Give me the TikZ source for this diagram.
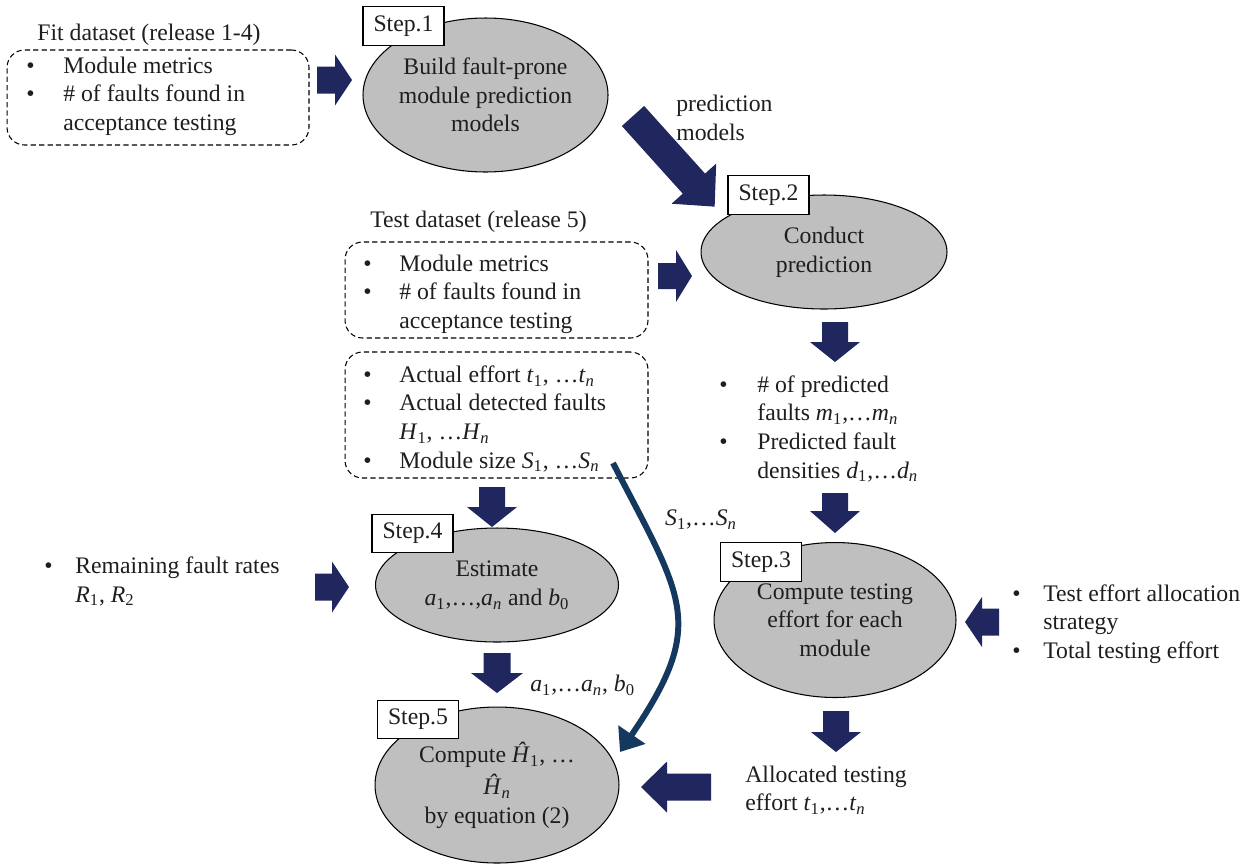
\documentclass[tikz,border=0pt]{standalone}
\usepackage{fontspec}
\setmainfont{Liberation Serif}
\usepackage{array}
\usetikzlibrary{shapes.geometric,arrows.meta}
\definecolor{navy}{RGB}{32,39,94}
\definecolor{curvec}{RGB}{20,56,94}
\definecolor{txt}{RGB}{30,30,30}
\definecolor{ellfill}{RGB}{191,191,191}
\newcommand\vsub[2]{\textit{#1}\textsubscript{#2}}
\newcommand\vsn[1]{\textit{#1}\textsubscript{\textit{n}}}
\newcommand\blist[2]{\begin{tabular}{@{}p{#1}@{}l@{}}#2\end{tabular}}
% tail x, tail y, angle, length, head length, head width, shaft width
\newcommand\fatarr[7]{\fill[navy, shift={(#1,#2)}, rotate=#3] (0,{-#7/2}) -- ({#4-#5},{-#7/2}) -- ({#4-#5},{-#6/2}) -- (#4,0) -- ({#4-#5},{#6/2}) -- ({#4-#5},{#7/2}) -- (0,{#7/2}) -- cycle;}
\begin{document}
\begin{tikzpicture}[x=0.02cm,y=-0.02cm,
  every node/.style={font=\fontsize{13.5}{16.3}\selectfont, text=txt, inner sep=0pt},
  ell/.style={ellipse, draw=black, line width=0.6pt, fill=ellfill, align=center},
  stepbox/.style={draw=black, line width=0.6pt, fill=white, minimum width=1.62cm, minimum height=0.77cm},
  dbox/.style={draw=black, dash pattern=on 3pt off 1.8pt, line width=0.6pt, rounded corners=0.35cm},
  curvearrow/.style={draw=curvec, line width=3.4pt, -{Triangle[width=18pt,length=12pt]}}
]
\useasboundingbox (0,0) rectangle (1253,866);

% ---- Fit dataset
\node[dbox, minimum width=6.04cm, minimum height=1.9cm] (fitbox) at (158,97.5) {};
\node[anchor=west] (fittitle) at (37,35) {Fit dataset (release 1-4)};
\node[anchor=west] (fitlist) at (26,96) {\blist{0.74cm}{\textbullet & Module metrics\\ \textbullet & \# of faults found in\\ & acceptance testing}};

% ---- Step 1
\node[ell, minimum width=4.9cm, minimum height=3.08cm] (e1) at (485.5,95) {Build fault-prone\\module prediction\\models};
\node[stepbox] (s1) at (403.5,26) {Step.1};
\node[anchor=west, align=left] (pm) at (676,118) {prediction\\models};

% ---- Step 2
\node[ell, minimum width=4.92cm, minimum height=2.28cm] (e2) at (824,252) {Conduct\\prediction};
\node[stepbox] (s2) at (768.5,195) {Step.2};

% ---- Test dataset
\node[anchor=west] (testtitle) at (370,222) {Test dataset (release 5)};
\node[dbox, minimum width=6.06cm, minimum height=1.92cm] (testbox) at (496.5,290) {};
\node[anchor=west] (testlist) at (363,294) {\blist{0.72cm}{\textbullet & Module metrics\\ \textbullet & \# of faults found in\\ & acceptance testing}};
\node[dbox, minimum width=6.06cm, minimum height=2.52cm] (actbox) at (496.5,415) {};
\node[anchor=west] (actlist) at (363,419.5) {\blist{0.72cm}{\textbullet & Actual effort \vsub{t}{1}, …\vsn{t}\\ \textbullet & Actual detected faults\\ & \vsub{H}{1}, …\vsn{H}\\ \textbullet & Module size \vsub{S}{1}, …\vsn{S}}};

% ---- predicted list
\node[anchor=west] (pred) at (719,429.5) {\blist{0.76cm}{\textbullet & \# of predicted\\ & faults \vsub{m}{1},…\vsn{m}\\ \textbullet & Predicted fault\\ & densities \vsub{d}{1},…\vsn{d}}};

% ---- Step 3
\node[ell, minimum width=4.84cm, minimum height=3.1cm] (e3) at (835,620) {Compute testing\\effort for each\\module};
\node[stepbox] (s3) at (761,562) {Step.3};
\node[anchor=west] (strat) at (1012,624) {\blist{0.62cm}{\textbullet & Test effort allocation\\ & strategy\\ \textbullet & Total testing effort}};
\node[anchor=west, align=left] (allocd) at (745,790) {Allocated testing\\effort \vsub{t}{1},…\vsn{t}};

% ---- Step 4
\node[ell, minimum width=4.86cm, minimum height=2.28cm] (e4) at (497,585) {Estimate\\\vsub{a}{1},…,\vsn{a} and \vsub{b}{0}};
\node[stepbox] (s4) at (412.5,533.5) {Step.4};
\node[anchor=west] (rlist) at (44,582) {\blist{0.62cm}{\textbullet & Remaining fault rates\\ & \vsub{R}{1}, \vsub{R}{2}}};
\node[anchor=west] (alab) at (530,685) {\vsub{a}{1},…\vsn{a}, \vsub{b}{0}};

% ---- Step 5
\node[ell, minimum width=4.88cm, minimum height=3.12cm] (e5) at (497,785) {Compute \vsub{Ĥ}{1}, …\\[2pt]\vsn{Ĥ}\\[0pt]by equation (2)};
\node[stepbox] (s5) at (418,719.5) {Step.5};

% ---- S label and curved arrow
\node (slab) at (701,520) {\vsub{S}{1},…\vsn{S}};
\coordinate (sstart) at (613,463);
\coordinate (send) at (620,752);
\draw[curvearrow] (sstart) .. controls (683,599) and (708,623) .. (send);

% ---- block arrows
\fatarr{317}{80}{0}{35}{17}{51}{27}
\fatarr{633}{116}{-48}{122}{31}{60}{30}
\fatarr{658}{276}{0}{34}{16}{52}{26}
\fatarr{835}{322}{-90}{40}{20}{50}{26}
\fatarr{835}{493}{-90}{40}{22}{50}{26}
\fatarr{999}{622}{180}{34}{17}{50}{27}
\fatarr{836}{711}{-90}{41}{20}{50}{26}
\fatarr{711}{787}{180}{70}{26}{51}{27}
\fatarr{492}{487}{-90}{40}{20}{50}{26}
\fatarr{315}{587}{0}{34}{17}{51}{27}
\fatarr{497}{653}{-90}{40}{20}{52}{27}
\end{tikzpicture}
\end{document}
